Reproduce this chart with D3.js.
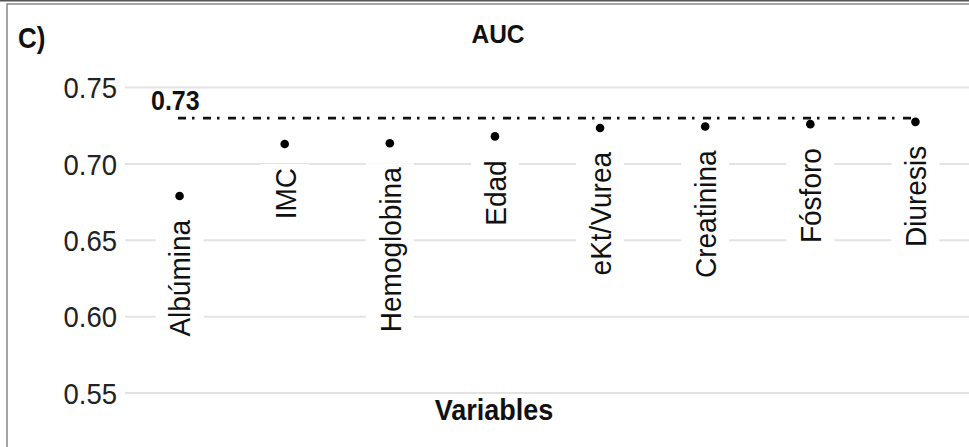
<!DOCTYPE html>
<html>
<head>
<meta charset="utf-8">
<script src="https://cdn.jsdelivr.net/npm/d3@7"></script>
<style>
  body { margin: 0; background: #fff; }
  text { font-family: "Liberation Sans", Arial, sans-serif; }
</style>
</head>
<body>
<script>
var variables = ["Albúmina", "IMC", "Hemoglobina", "Edad", "eKt/Vurea", "Creatinina", "Fósforo", "Diuresis"];
var auc = [0.679, 0.713, 0.7135, 0.718, 0.7235, 0.7245, 0.726, 0.7275];
var yTicks = [0.55, 0.60, 0.65, 0.70, 0.75];
var refValue = 0.73;

var width = 969, height = 447;
var stretch = 1.08; // glyphs in the picture are a bit taller than Arial

var svg = d3.select("body")
            .append("svg")
            .attr("width", width)
            .attr("height", height);

// frame
svg.append("line")
   .attr("x1", 0).attr("x2", width)
   .attr("y1", 0.5).attr("y2", 0.5)
   .attr("stroke", "#555").attr("stroke-width", 2);
svg.append("rect")
   .attr("x", 7).attr("y", 4)
   .attr("width", width).attr("height", height)
   .attr("fill", "none")
   .attr("stroke", "#888").attr("stroke-width", 1.5);

var xScale = d3.scaleBand()
               .domain(variables)
               .range([127, 968]);

var yScale = d3.scaleLinear()
               .domain([0.55, 0.75])
               .range([393, 87.5]);

function xMid(d) { return xScale(d) + xScale.bandwidth() / 2; }

// gridlines
svg.append("g")
   .selectAll("line")
   .data(yTicks)
   .enter()
   .append("line")
   .attr("x1", 125).attr("x2", width)
   .attr("y1", function(d){ return yScale(d); })
   .attr("y2", function(d){ return yScale(d); })
   .attr("stroke", "#e3e3e3")
   .attr("stroke-width", 2);

// y tick labels
svg.append("g")
   .selectAll("text")
   .data(yTicks)
   .enter()
   .append("text")
   .attr("transform", function(d){ return "translate(117," + yScale(d) + ") scale(1," + stretch + ")"; })
   .attr("dy", "0.36em")
   .attr("text-anchor", "end")
   .attr("font-size", 27.5)
   .attr("fill", "#222")
   .text(function(d){ return d3.format(".2f")(d); });

// rotated category labels with white boxes
var labels = svg.append("g")
   .selectAll("g")
   .data(variables)
   .enter()
   .append("g")
   .attr("transform", function(d, i){
      return "translate(" + xMid(d) + "," + (yScale(auc[i]) + 24) + ") rotate(-90)";
   });

labels.append("rect").attr("fill", "#fff");

labels.append("text")
      .attr("transform", "scale(1," + stretch + ")")
      .attr("text-anchor", "end")
      .attr("dy", "0.36em")
      .attr("font-size", 28)
      .attr("fill", "#111")
      .text(function(d){ return d; });

labels.each(function(){
   var g = d3.select(this);
   var len = g.select("text").node().getComputedTextLength();
   g.select("rect")
    .attr("x", -len - 4)
    .attr("y", -24)
    .attr("width", len + 8)
    .attr("height", 48);
});

// reference line
svg.append("line")
   .attr("x1", 178)
   .attr("x2", xMid(variables[7]))
   .attr("y1", yScale(refValue))
   .attr("y2", yScale(refValue))
   .attr("stroke", "#111")
   .attr("stroke-width", 2.8)
   .attr("stroke-dasharray", "8,6,2.5,8.5");

svg.append("text")
   .attr("transform", "translate(151,110) scale(1," + stretch + ")")
   .attr("font-size", 25)
   .attr("font-weight", "bold")
   .attr("fill", "#111")
   .text(d3.format(".2f")(refValue));

// points
svg.append("g")
   .selectAll("circle")
   .data(auc)
   .enter()
   .append("circle")
   .attr("cx", function(d, i){ return xMid(variables[i]); })
   .attr("cy", function(d){ return yScale(d); })
   .attr("r", 4.3)
   .attr("fill", "#000");

// titles
svg.append("text")
   .attr("transform", "translate(18,48) scale(1," + (stretch + 0.05) + ")")
   .attr("font-size", 26)
   .attr("font-weight", "bold")
   .attr("fill", "#111")
   .text("C)");

svg.append("text")
   .attr("transform", "translate(498,43) scale(1," + stretch + ")")
   .attr("text-anchor", "middle")
   .attr("font-size", 24.5)
   .attr("font-weight", "bold")
   .attr("fill", "#111")
   .text("AUC");

svg.append("text")
   .attr("transform", "translate(494,420) scale(1," + stretch + ")")
   .attr("text-anchor", "middle")
   .attr("font-size", 27)
   .attr("font-weight", "bold")
   .attr("fill", "#111")
   .text("Variables");
</script>
</body>
</html>
